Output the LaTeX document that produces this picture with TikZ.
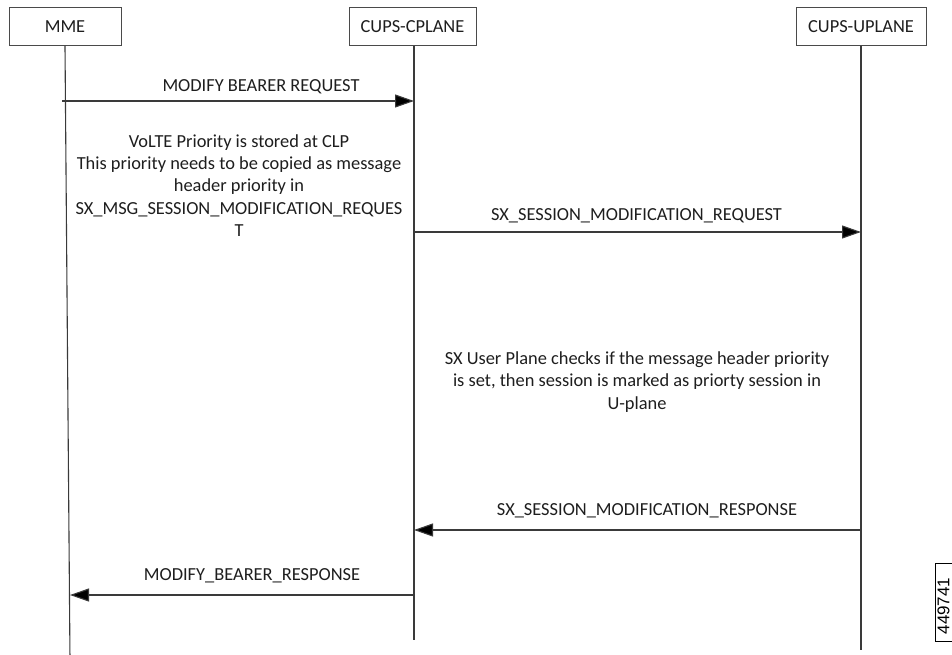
\documentclass[tikz,border=0pt]{standalone}
\usepackage{fontspec}
\setmainfont{Carlito}
\newfontfamily\arialfont{Liberation Sans}
\usetikzlibrary{arrows.meta}
\definecolor{linec}{HTML}{3A3A3A}
\definecolor{boxc}{HTML}{4A4A4A}
\definecolor{txtc}{HTML}{1E1E1E}
\begin{document}
\begin{tikzpicture}[x=1pt,y=-1pt,
  txt/.style={inner sep=0pt,text=txtc,font=\fontsize{18.4}{22.3}\selectfont,align=center},
  actor/.style={draw=boxc,line width=1pt,minimum height=38pt,inner sep=0pt,text=txtc,font=\fontsize{18.4}{22.3}\selectfont},
  life/.style={draw=linec,line width=1.1pt},
  msg/.style={draw=linec,line width=1.1pt,-{Triangle[length=19pt,width=13pt,fill=black]}},
]
\useasboundingbox (0,0) rectangle (952,655);
\fill[white] (0,0) rectangle (952,655);
% actors
\node[actor,minimum width=112pt] (mme) at (65,27) {MME};
\node[actor,minimum width=127pt] (cp) at (412.5,27) {CUPS-CPLANE};
\node[actor,minimum width=130pt] (up) at (861,27) {CUPS-UPLANE};
% lifeline ends
\coordinate (mmeT) at (65,46);
\coordinate (mmeB) at (70,660);
\coordinate (cpT) at (414,46);
\coordinate (cpB) at (414,640);
\coordinate (upT) at (861,46);
\coordinate (upB) at (861,650);
\draw[life] (mmeT) -- (mmeB);
\draw[life] (cpT) -- (cpB);
\draw[life] (upT) -- (upB);
% message points
\coordinate (a1s) at (62,101);
\coordinate (a1e) at (414,101);
\coordinate (a2s) at (414,232);
\coordinate (a2e) at (861,232);
\coordinate (a3s) at (861,530);
\coordinate (a3e) at (414,530);
\coordinate (a4s) at (414,595);
\coordinate (a4e) at (70,595);
\draw[msg] (a1s) -- (a1e);
\draw[msg] (a2s) -- (a2e);
\draw[msg] (a3s) -- (a3e);
\draw[msg] (a4s) -- (a4e);
% labels
\node[txt] (l1) at (261,87) {MODIFY BEARER REQUEST};
\node[txt] (l2) at (636.5,216) {SX\_SESSION\_MODIFICATION\_REQUEST};
\node[txt] (l3) at (647,511) {SX\_SESSION\_MODIFICATION\_RESPONSE};
\node[txt] (l4) at (252,576) {MODIFY\_BEARER\_RESPONSE};
\node[txt] (n1) at (239,185.5) {VoLTE Priority is stored at CLP\\This priority needs to be copied as message\\header priority in\\SX\_MSG\_SESSION\_MODIFICATION\_REQUES\\T};
\node[txt] (n2) at (637,382) {SX User Plane checks if the message header priority\\is set, then session is marked as priorty session in\\U-plane};
% figure id
\draw[draw=black,line width=1pt] (935,563) rectangle (960,641);
\node[inner sep=0pt,rotate=90,font=\arialfont\fontsize{17}{19}\selectfont,text=black] (fid) at (943.5,606) {449741};
\end{tikzpicture}
\end{document}
